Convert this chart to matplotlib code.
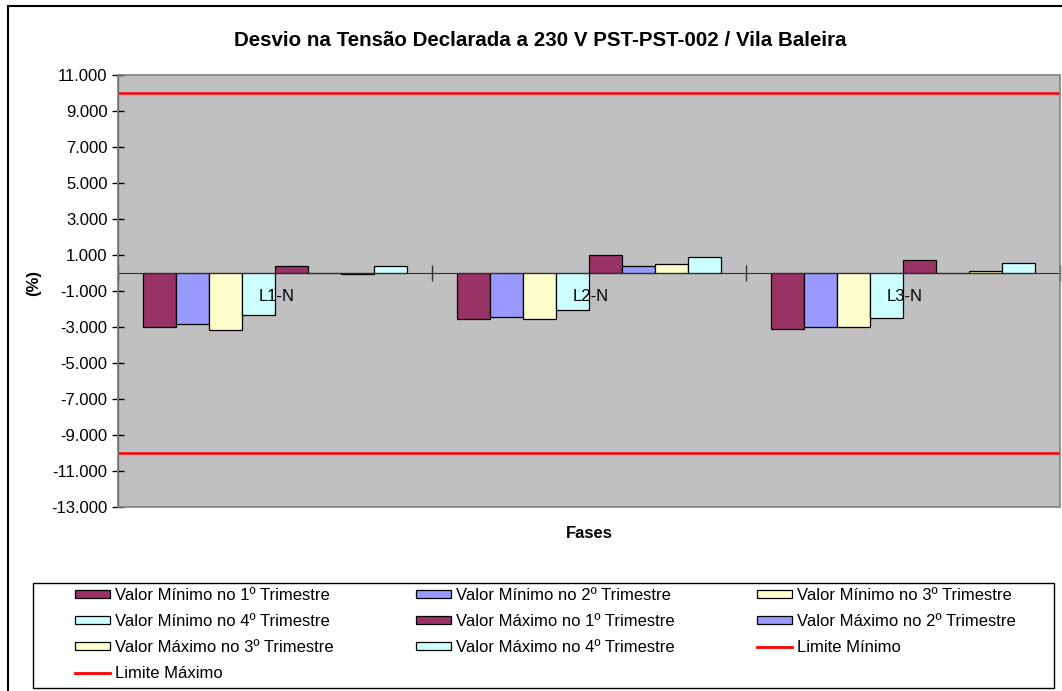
import matplotlib
matplotlib.use("Agg")
import matplotlib.pyplot as plt
from matplotlib.patches import Rectangle
from matplotlib.lines import Line2D
import numpy as np

plt.rcParams["font.family"] = ["Liberation Sans", "DejaVu Sans"]

# ── data ────────────────────────────────────────────────────────────────────
categories = ["L1-N", "L2-N", "L3-N"]
series_names = [
    "Valor Mínimo no 1º Trimestre",
    "Valor Mínimo no 2º Trimestre",
    "Valor Mínimo no 3º Trimestre",
    "Valor Mínimo no 4º Trimestre",
    "Valor Máximo no 1º Trimestre",
    "Valor Máximo no 2º Trimestre",
    "Valor Máximo no 3º Trimestre",
    "Valor Máximo no 4º Trimestre",
]
min_t1 = [-3.00, -2.57, -3.13]
min_t2 = [-2.85, -2.44, -3.00]
min_t3 = [-3.18, -2.57, -3.00]
min_t4 = [-2.33, -2.06, -2.52]
max_t1 = [0.37, 0.98, 0.70]
max_t2 = [0.00, 0.37, 0.00]
max_t3 = [-0.06, 0.52, 0.11]
max_t4 = [0.37, 0.87, 0.54]
limite_minimo = 10.0
limite_maximo = -10.0
yticks = np.arange(-13, 12, 2)

series_vals = [min_t1, min_t2, min_t3, min_t4, max_t1, max_t2, max_t3, max_t4]
colors = ["#993366", "#9999FF", "#FFFFCC", "#CCFFFF",
          "#993366", "#9999FF", "#FFFFCC", "#CCFFFF"]
PLOT_BG = "#C0C0C0"
RED = "#FF0000"

fig = plt.figure(figsize=(10.62, 6.91), dpi=100, facecolor="white")
W, H = 1062, 691
ax = fig.add_axes([118 / W, 1 - 507 / H, (1060 - 118) / W, (507 - 75) / H],
                  facecolor=PLOT_BG)

# bars: 8 per category, Excel-style gap
n = len(series_vals)
bw = 0.105
x = np.arange(len(categories))
for i, (vals, c) in enumerate(zip(series_vals, colors)):
    off = (i - (n - 1) / 2) * bw
    ax.bar(x + off, vals, width=bw, color=c, edgecolor="black", linewidth=0.9,
           label=series_names[i], zorder=3)

ax.axhline(limite_minimo, color=RED, lw=1.8, zorder=4)
ax.axhline(limite_maximo, color=RED, lw=1.8, zorder=4)

ax.set_xlim(-0.5, len(categories) - 0.5)
ax.set_ylim(yticks[0], yticks[-1])
ax.set_yticks(yticks)
ax.set_yticklabels([f"{v:.3f}" for v in yticks], fontsize=12)
ax.tick_params(axis="y", direction="inout", length=9, width=1, pad=3)

# category axis crosses at zero
for s in ("top", "right"):
    ax.spines[s].set_visible(False)
ax.spines["left"].set_color("black")
ax.spines["bottom"].set_position(("data", 0))
ax.spines["bottom"].set_color("#303030")
ax.spines["bottom"].set_zorder(5)
ax.set_xticks(np.arange(-0.5, len(categories) + 0.5, 1.0))
ax.set_xticklabels([])
ax.tick_params(axis="x", direction="inout", length=12, width=1, color="#303030")
ax.add_patch(Rectangle((0, 0), 1, 1, transform=ax.transAxes, fill=False,
                       edgecolor="#808080", lw=1.2, zorder=6, clip_on=False))
for xi, lab in zip(x, categories):
    ax.text(xi + 0.005, -0.9, lab, ha="center", va="top", fontsize=12, zorder=6)

# titles
fig.text(540 / W, 1 - 40 / H, "Desvio na Tensão Declarada a 230 V PST-PST-002 / Vila Baleira",
         ha="center", va="center", fontsize=14.8, fontweight="bold")
fig.text(589 / W, 1 - 533 / H, "Fases", ha="center", va="center",
         fontsize=12, fontweight="bold")
fig.text(34 / W, 1 - 283 / H, "(%)", ha="center", va="center", rotation=90,
         fontsize=12, fontweight="bold")

# outer chart border
fig.patches.append(Rectangle((8 / W, -0.05), 1.1, 1 - 6 / H + 0.05,
                             transform=fig.transFigure, fill=False,
                             edgecolor="black", lw=1.5))

# legend box, drawn separately so its padding matches the original
fig.patches.append(Rectangle((33 / W, 1 - 688 / H), (1054 - 33) / W, (688 - 583) / H,
                             transform=fig.transFigure, fill=False,
                             edgecolor="black", lw=1.0))

# legend, row-major order like Excel
handles, labels = ax.get_legend_handles_labels()
handles += [Line2D([], [], color=RED, lw=2), Line2D([], [], color=RED, lw=2)]
labels += ["Limite Mínimo", "Limite Máximo"]
order = [0, 3, 6, 9, 1, 4, 7, 2, 5, 8]
leg = fig.legend([handles[i] for i in order], [labels[i] for i in order],
                 loc="upper left", bbox_to_anchor=(75 / W, 1 - 588 / H),
                 ncol=3, fontsize=12, frameon=False,
                 handlelength=2.1, handleheight=0.42,
                 handletextpad=0.3, labelspacing=0.66, borderaxespad=0,
                 borderpad=0, columnspacing=4.95)

fig.savefig("out.png", dpi=100, facecolor="white")
